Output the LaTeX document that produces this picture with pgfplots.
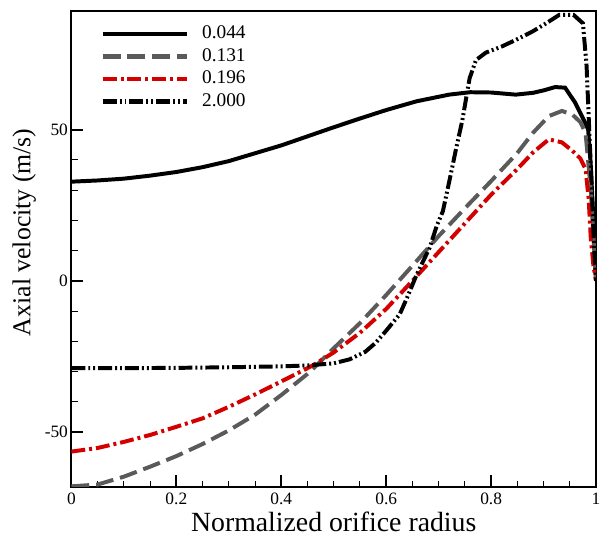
\documentclass[border=0pt]{standalone}
\usepackage{fontspec}
\setmainfont{Liberation Serif}
\usepackage{pgfplots}
\pgfplotsset{compat=1.18}
\definecolor{dgray}{RGB}{90,90,90}
\definecolor{tred}{RGB}{212,0,0}
\begin{document}
\begin{tikzpicture}
\begin{axis}[
  scale only axis, width=529pt, height=480pt,
  xmin=0, xmax=1, ymin=-68.2, ymax=89.3,
  xtick={0,0.2,0.4,0.6,0.8,1}, ytick={-50,0,50},
  minor x tick num=3, minor y tick num=4,
  xtick pos=left, ytick pos=left,
  tick align=inside,
  major tick length=12pt, minor tick length=6.5pt,
  major tick style={line width=2pt, black},
  minor tick style={line width=1pt, black},
  axis line style={line width=2pt},
  tick label style={font=\fontsize{17.5}{20}\selectfont},
  xticklabel style={yshift=-3pt},
  /pgf/number format/assume math mode=true,
  xlabel={Normalized orifice radius},
  ylabel={Axial velocity (m/s)},
  xlabel style={font=\fontsize{28}{32}\selectfont},
  ylabel style={font=\fontsize{26}{30}\selectfont, at={(ticklabel cs:0.535)}},
  ylabel shift=2pt,
  legend style={draw=none, fill=none, at={(0.055,0.975)}, anchor=north west,
    font=\fontsize{19.5}{22}\selectfont, row sep=0pt, column sep=11pt, inner sep=0pt,
    nodes={inner sep=2pt, text height=14pt, text depth=4.67pt}},
  legend cell align=left,
  legend image code/.code={\draw[#1, line width=4.5pt] (0pt,0pt) -- (85pt,0pt);},
  every axis plot/.append style={line width=4pt},
]
\coordinate (SW) at (rel axis cs:0,0);
\coordinate (NE) at (rel axis cs:1,1);
\addplot[black, solid] coordinates {
(0,32.8)(0.05,33.2)(0.1,33.8)(0.15,34.8)(0.2,36)(0.25,37.6)(0.3,39.6)(0.35,42.2)
(0.4,44.8)(0.45,47.8)(0.5,50.8)(0.55,53.7)(0.6,56.5)(0.658,59.4)(0.72,61.6)(0.76,62.4)
(0.8,62.3)(0.847,61.6)(0.88,62.2)(0.9,63)(0.922,64.1)(0.941,63.9)(0.96,59)(0.979,52.4)
(0.985,50)(0.99,38)(0.995,20)(1,0)};
\addlegendentry{0.044}
\addplot[dgray, dash pattern=on 18pt off 7pt] coordinates {
(0,-68)(0.05,-67.4)(0.1,-64.8)(0.15,-61.5)(0.2,-58)(0.25,-54)(0.3,-49.5)(0.35,-44.3)
(0.4,-37.8)(0.45,-30.8)(0.46,-29.2)(0.5,-22.3)(0.55,-14)(0.6,-4.7)(0.65,5)(0.7,14.8)(0.75,24)(0.8,33)
(0.85,42.3)(0.88,49)(0.91,54.5)(0.935,56.2)(0.955,55)(0.97,52.5)(0.98,49)(0.99,30)
(0.995,15)(1,0)};
\addlegendentry{0.131}
\addplot[tred, dash pattern=on 14pt off 4pt on 3pt off 4pt] coordinates {
(0,-56.5)(0.05,-55.3)(0.1,-53.3)(0.15,-51)(0.2,-48.3)(0.25,-45.5)(0.3,-41.7)(0.35,-37.6)
(0.4,-33.3)(0.45,-28.9)(0.46,-28)(0.5,-23.7)(0.55,-17.2)(0.6,-9.3)(0.65,0)(0.7,9.5)(0.75,19)
(0.8,28.5)(0.85,37)(0.88,42.5)(0.91,46.8)(0.935,45.8)(0.955,43)(0.97,40.5)(0.98,37)
(0.986,27)(0.99,14)(0.995,5)(1,0)};
\addlegendentry{0.196}
\addplot[black, dash pattern=on 14pt off 3pt on 2pt off 3pt on 2pt off 3pt] coordinates {
(0,-28.9)(0.1,-28.9)(0.2,-28.8)(0.3,-28.6)(0.4,-28.3)(0.45,-28)(0.5,-27.3)(0.53,-26)
(0.56,-23.5)(0.58,-20.5)(0.6,-16.5)(0.626,-11)(0.64,-5.5)(0.658,2)(0.683,11)(0.696,18)
(0.708,23)(0.721,33.5)(0.733,43.5)(0.745,53)(0.752,60)(0.759,67)(0.771,73)(0.79,75.5)
(0.82,77.5)(0.847,79.7)(0.878,82.4)(0.904,85.1)(0.93,88)(0.957,88)(0.975,85.2)
(0.982,71)(0.987,50)(0.992,30)(0.996,12)(1,0)};
\addlegendentry{2.000}
\end{axis}
\pgfresetboundingbox
\useasboundingbox ([xshift=-72pt,yshift=-51pt]SW) rectangle ([xshift=5pt,yshift=11pt]NE);
\end{tikzpicture}
\end{document}
